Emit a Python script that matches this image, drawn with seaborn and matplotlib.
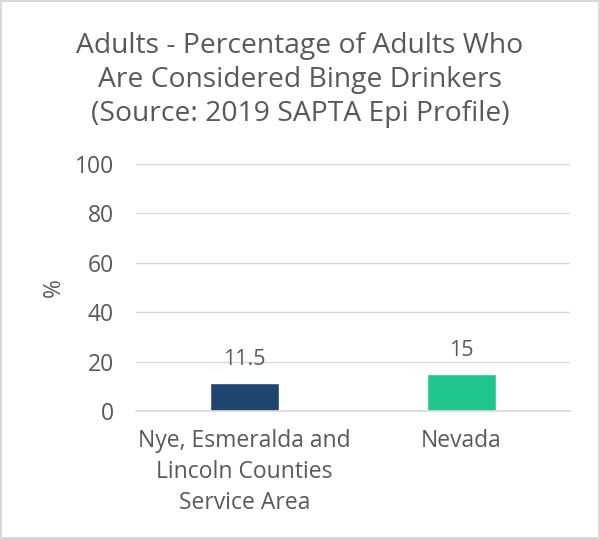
import matplotlib
matplotlib.use("Agg")
import matplotlib.pyplot as plt
import seaborn as sns
import pandas as pd

categories = ["Nye, Esmeralda and\nLincoln Counties\nService Area", "Nevada"]
values = [11.5, 15]
colors = ["#1f4571", "#20c58f"]
title = "Adults - Percentage of Adults Who\nAre Considered Binge Drinkers\n(Source: 2019 SAPTA Epi Profile)"
yticks = [0, 20, 40, 60, 80, 100]

sns.set_theme(style="white")
plt.rcParams['font.family'] = ['Open Sans', 'DejaVu Sans']
txt = "#595959"

df = pd.DataFrame({"cat": categories, "val": values})
fig = plt.figure(figsize=(6, 5.39), dpi=100)
ax = fig.add_axes([0.2267, 0.2375, 0.7233, 0.4582])
sns.barplot(data=df, x="cat", y="val", hue="cat", palette=colors, width=0.32,
            legend=False, ax=ax, saturation=1)
ax.set_ylim(0, 100)
ax.set_yticks(yticks)
ax.yaxis.grid(True, color="#d9d9d9", linewidth=1)
ax.set_axisbelow(True)
for s in ["top", "right", "left"]:
    ax.spines[s].set_visible(False)
ax.spines["bottom"].set_color("#d9d9d9")
ax.spines["bottom"].set_linewidth(1.2)
ax.tick_params(axis="y", length=0, labelsize=16.5, colors=txt, pad=16)
ax.tick_params(axis="x", length=0, labelsize=16.5, colors=txt, pad=13)
for lab in ax.get_xticklabels():
    lab.set_linespacing(1.4)
ax.set_xlabel("")
ax.set_ylabel("%", fontsize=16.5, color=txt, labelpad=6)
for i, v in enumerate(values):
    ax.annotate(f"{v:g}", (i, v), xytext=(0, 13), textcoords="offset points",
                ha="center", va="baseline", fontsize=15.5, color=txt)
fig.text(0.5, 0.852, title, ha="center", va="center", fontsize=20.3, color=txt, linespacing=1.28)
fig.patches.append(plt.Rectangle((0.002, 0.002), 0.996, 0.996, transform=fig.transFigure,
                                 fill=False, edgecolor="#d9d9d9", linewidth=1.5))
fig.savefig("out.png", dpi=100)
